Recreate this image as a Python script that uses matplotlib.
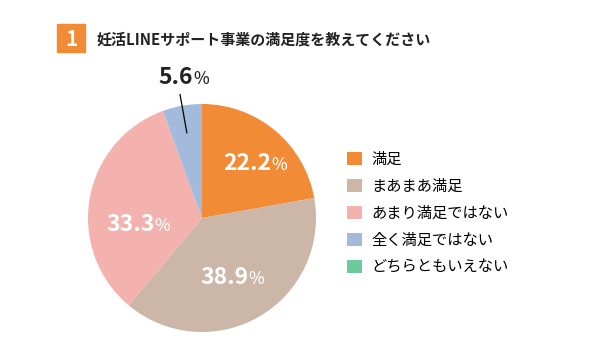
import numpy as np
import matplotlib
matplotlib.use("Agg")
import matplotlib.pyplot as plt
from matplotlib.patches import Rectangle

plt.rcParams['font.family'] = ['Noto Sans CJK JP', 'DejaVu Sans']

# data
title = "妊活LINEサポート事業の満足度を教えてください"
labels = ["満足", "まあまあ満足", "あまり満足ではない", "全く満足ではない", "どちらともいえない"]
values = [22.2, 38.9, 33.3, 5.6, 0.0]
colors = ["#F28B36", "#CBB6A8", "#F3B2AD", "#A3BADD", "#6DCA9C"]

W, H = 614, 357
fig = plt.figure(figsize=(W / 100, H / 100), dpi=100)
ax = fig.add_axes([0, 0, 1, 1])

cx, cy, r = 202, H - 218, 114
wedges, _ = ax.pie(values, colors=colors, startangle=90, counterclock=False,
                   center=(cx, cy), radius=r, frame=True,
                   wedgeprops=dict(linewidth=0))
ax.set_xlim(0, W)
ax.set_ylim(0, H)
ax.set_aspect('equal')
ax.axis('off')

# title box + text
fig.patches.append(Rectangle((57 / W, 1 - 52 / H), 28 / W, 28 / H,
                             transform=fig.transFigure, color="#F28B36"))
fig.text(71 / W, 1 - 39 / H, "1", color="white", fontsize=15, fontweight='bold',
         ha='center', va='center')
fig.text(96 / W, 1 - 40 / H, title, fontsize=10.8, fontweight='bold',
         ha='left', va='center', color="#222222")

# slice labels
fig.canvas.draw()
renderer = fig.canvas.get_renderer()
nudge = {0: (8, 2), 1: (-5, 0), 2: (3, -18)}
for i, (v, w) in enumerate(zip(values, wedges)):
    mid = np.deg2rad((w.theta1 + w.theta2) / 2)
    if v == 0:
        continue
    if v < 10:
        # small slice: label outside with a leader line
        x0 = cx + r * 0.76 * np.cos(mid)
        y0 = cy + r * 0.76 * np.sin(mid)
        x1 = cx + r * 1.1 * np.cos(mid)
        y1 = cy + r * 1.1 * np.sin(mid)
        ax.plot([x0, x1], [y0, y1], color="black", lw=0.9)
        tx = cx + r * 1.22 * np.cos(mid) + 5
        ty = cy + r * 1.22 * np.sin(mid) + 4
        col = "#222222"
    else:
        dx, dy = nudge.get(i, (0, 0))
        tx = cx + r * 0.6 * np.cos(mid) + dx
        ty = cy + r * 0.6 * np.sin(mid) + dy
        col = "white"
    t = ax.text(tx - 7, ty, f"{v:.1f}", color=col, fontsize=16.5, fontweight='bold',
                ha='center', va='center')
    bb = t.get_window_extent(renderer)
    ax.text(bb.x1, ty - 1.5, "%", color=col, fontsize=12, fontweight='medium',
            ha='left', va='center')

# legend
ax.legend(wedges, labels, loc='upper left', bbox_to_anchor=(339 / W, 1 - 143 / H),
          bbox_transform=fig.transFigure, frameon=False, fontsize=11,
          handlelength=0.98, handleheight=0.95, handletextpad=0.62,
          labelspacing=0.65, borderpad=0)

fig.savefig("out.png", dpi=100)
